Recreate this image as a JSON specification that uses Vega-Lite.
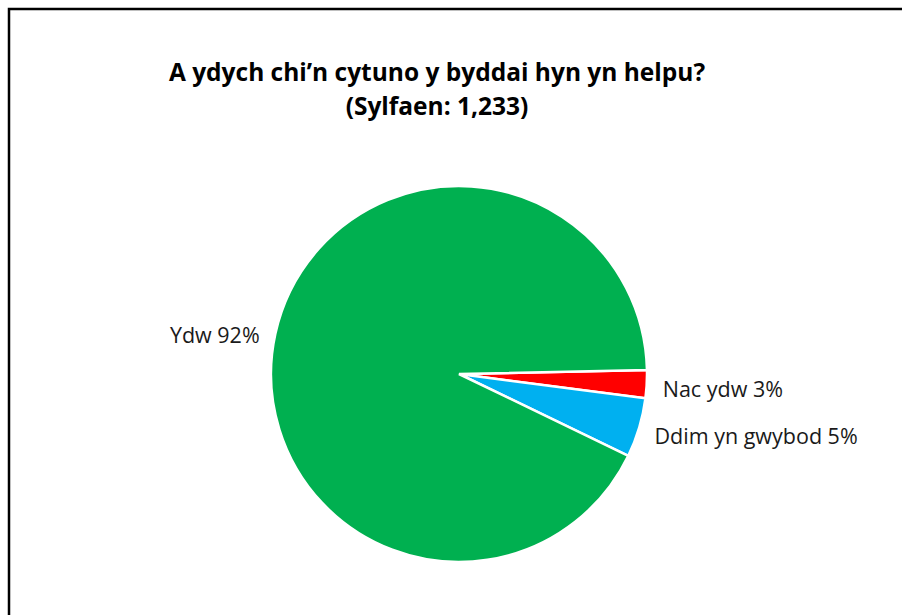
{
  "$schema": "https://vega.github.io/schema/vega-lite/v6.json",
  "width": 900,
  "height": 730,
  "autosize": {"type": "none"},
  "padding": {"left": 9, "top": 9, "right": 0, "bottom": 0},
  "background": "white",
  "view": {"stroke": "#000000", "strokeWidth": 2.5, "fill": "white"},
  "title": {
    "text": ["A ydych chi’n cytuno y byddai hyn yn helpu?", "(Sylfaen: 1,233)"],
    "anchor": "middle",
    "font": "Open Sans",
    "fontSize": 24.5,
    "fontWeight": "bold",
    "color": "#000000",
    "lineHeight": 34,
    "baseline": "alphabetic",
    "dx": -22,
    "dy": 134
  },
  "data": {
    "values": [
      {"ateb": "Nac ydw", "canran": 2.4, "label": "Nac ydw 3%", "ochr": "dde"},
      {"ateb": "Ddim yn gwybod", "canran": 5.1, "label": "Ddim yn gwybod 5%", "ochr": "dde"},
      {"ateb": "Ydw", "canran": 92.5, "label": "Ydw 92%", "ochr": "chwith"}
    ]
  },
  "encoding": {
    "theta": {"field": "canran", "type": "quantitative", "stack": true, "scale": {"range": [1.5498, 7.8330]}},
    "order": {"field": "ochr", "type": "nominal", "sort": "descending"}
  },
  "layer": [
    {
      "mark": {"type": "arc", "outerRadius": 188, "stroke": "white", "strokeWidth": 2.5},
      "encoding": {
        "color": {
          "field": "ateb",
          "type": "nominal",
          "scale": {"domain": ["Nac ydw", "Ddim yn gwybod", "Ydw"], "range": ["#ff0000", "#00b0f0", "#00b050"]},
          "legend": null
        }
      }
    },
    {
      "mark": {
        "type": "text",
        "radius": 204,
        "dy": 6,
        "font": "Open Sans",
        "fontSize": 21.5,
        "color": "#1a1a1a",
        "baseline": "middle",
        "align": {"expr": "datum.ochr == 'chwith' ? 'right' : 'left'"}
      },
      "encoding": {
        "text": {"field": "label", "type": "nominal"}
      }
    }
  ]
}
